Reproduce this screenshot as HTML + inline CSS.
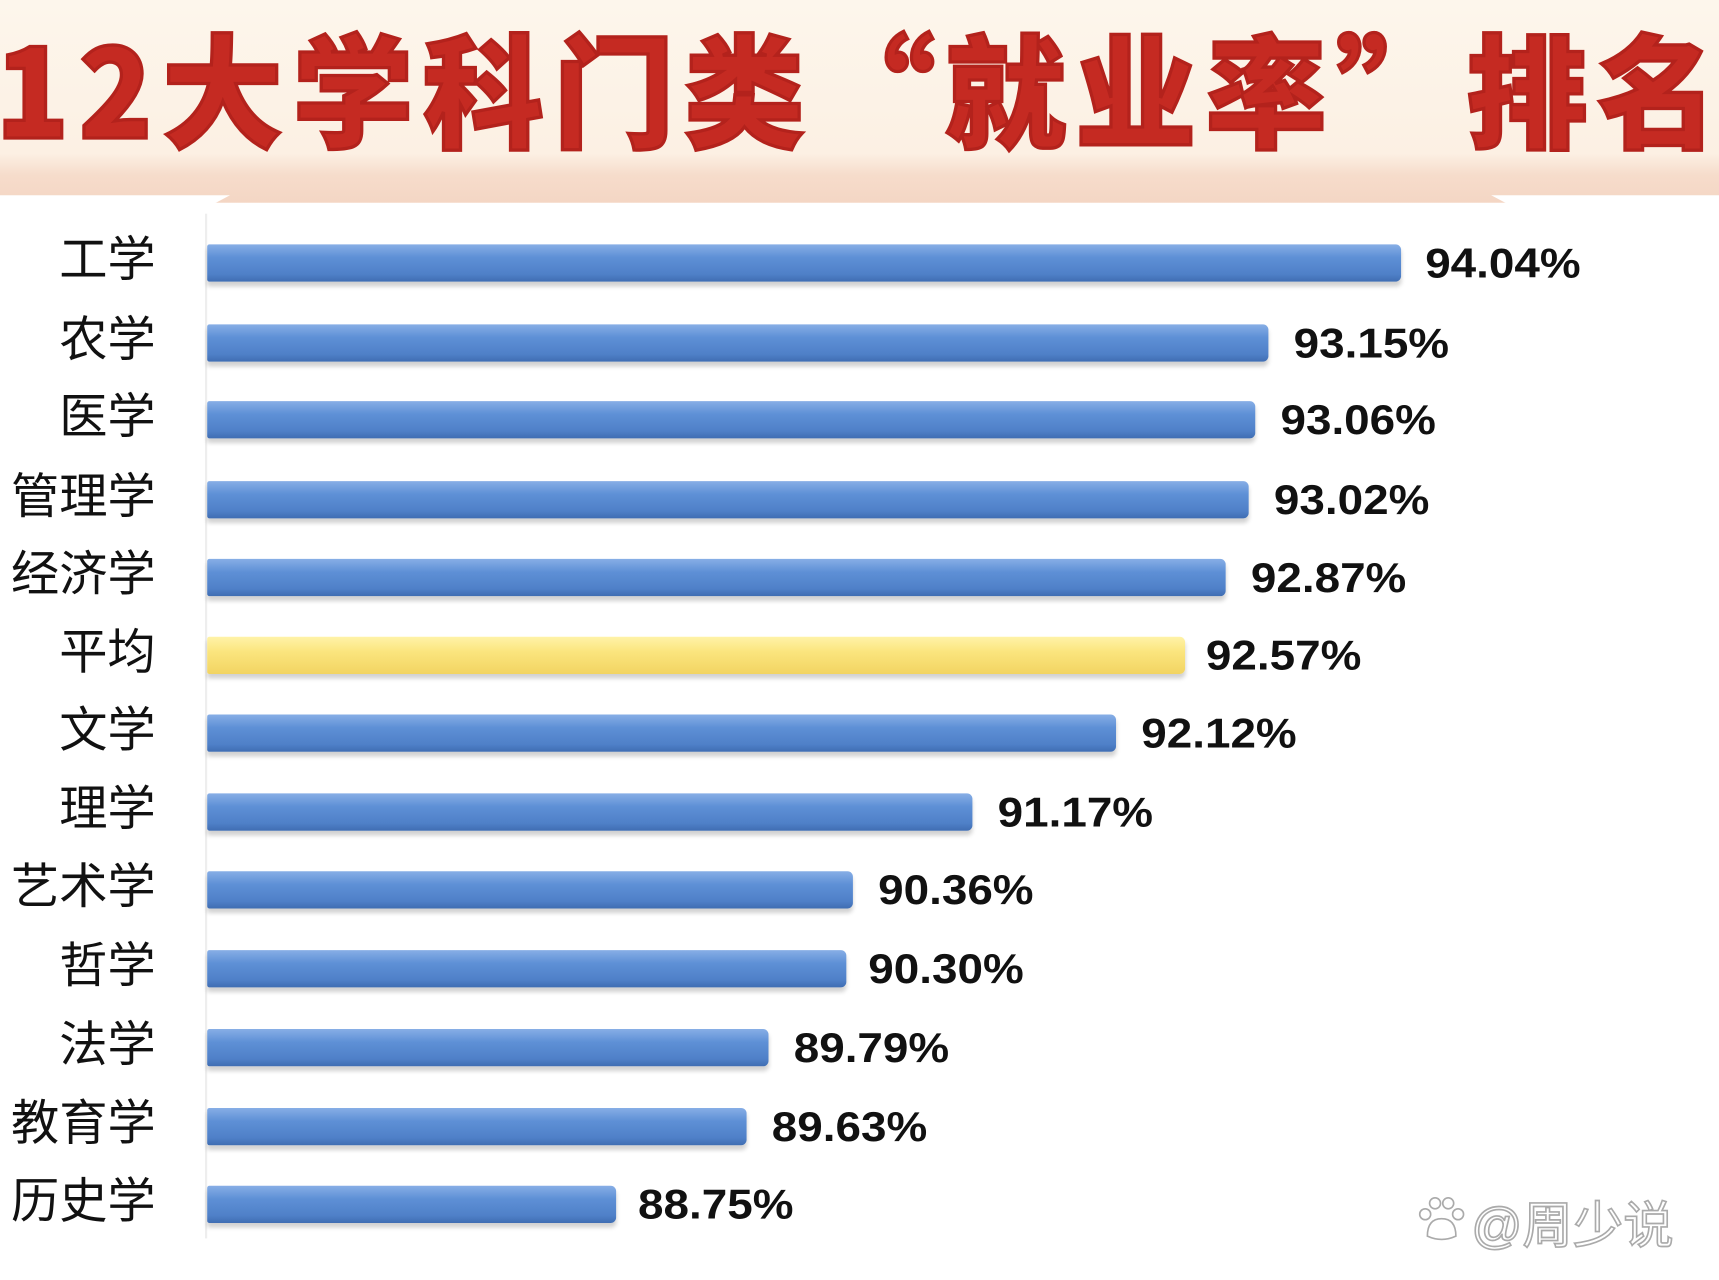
<!DOCTYPE html>
<html><head><meta charset="utf-8"><style>
html,body{margin:0;padding:0;}
body{width:1719px;height:1280px;overflow:hidden;background:#fff;}
#w{position:absolute;left:0;top:0;width:1568px;height:1168px;transform:scale(1.0963,1.0959);transform-origin:0 0;background:#fff;font-family:"Liberation Sans","Noto Sans CJK SC",sans-serif;}
.hd{position:absolute;left:0;top:0;width:1568px;height:185px;background:linear-gradient(#fdf6ec 0,#fcf0e3 140px,#f6dccb 160px,#f4d6c4 185px);}
.panel{position:absolute;left:0;top:178px;width:1568px;height:990px;background:#fff;clip-path:polygon(0 0,210px 0,195px 8px,1375px 8px,1360px 0,1568px 0,1568px 990px,0 990px);}
.t{position:absolute;left:-4px;top:12px;white-space:nowrap;font-family:"Noto Sans CJK SC",sans-serif;font-weight:900;font-size:110px;line-height:130px;color:#c52a22;letter-spacing:9px;-webkit-text-stroke:3px #b3221c;transform:scaleY(1.02);transform-origin:0 50%;}
.ax{position:absolute;left:187px;top:195px;width:2px;height:935px;background:#eee;}
.c{position:absolute;right:1426px;font-size:44px;line-height:50px;color:#111;white-space:nowrap;font-family:"Liberation Sans","Noto Sans CJK SC",sans-serif;}
.b{position:absolute;left:189px;height:34px;border-radius:2px 5px 5px 2px;background:linear-gradient(#87aee6 0,#5e90d6 35%,#4f80c8 80%,#3f6db2 100%);box-shadow:0 4px 4px rgba(0,0,0,.18);}
.y{background:linear-gradient(#fff3a8 0,#fbe57e 40%,#f2d462 100%);}
.v{position:absolute;font-weight:bold;font-size:38px;line-height:40px;color:#111;transform:scaleX(1.1);transform-origin:0 50%;}
.wm{position:absolute;left:1342px;top:1082px;font-size:46px;color:#fff;-webkit-text-stroke:1.5px #aaa;font-family:"Liberation Sans","Noto Sans CJK SC",sans-serif;}
.paw{position:absolute;left:1292px;top:1090px;width:46px;height:46px;}
</style></head><body><div id="w">
<div class="hd"></div>
<div class="t">12大学科门类“就业率”排名</div>
<div class="panel"></div>
<div class="ax"></div>

<div class="c" style="top:213px">工学</div><div class="b" style="top:223px;width:1089px"></div><div class="v" style="left:1300px;top:221px">94.04%</div>
<div class="c" style="top:286px">农学</div><div class="b" style="top:296px;width:968px"></div><div class="v" style="left:1180px;top:294px">93.15%</div>
<div class="c" style="top:356px">医学</div><div class="b" style="top:366px;width:956px"></div><div class="v" style="left:1168px;top:364px">93.06%</div>
<div class="c" style="top:429px">管理学</div><div class="b" style="top:439px;width:950px"></div><div class="v" style="left:1162px;top:437px">93.02%</div>
<div class="c" style="top:500px">经济学</div><div class="b" style="top:510px;width:929px"></div><div class="v" style="left:1141px;top:508px">92.87%</div>
<div class="c" style="top:571px">平均</div><div class="b y" style="top:581px;width:892px"></div><div class="v" style="left:1100px;top:579px">92.57%</div>
<div class="c" style="top:642px">文学</div><div class="b" style="top:652px;width:829px"></div><div class="v" style="left:1041px;top:650px">92.12%</div>
<div class="c" style="top:714px">理学</div><div class="b" style="top:724px;width:698px"></div><div class="v" style="left:910px;top:722px">91.17%</div>
<div class="c" style="top:785px">艺术学</div><div class="b" style="top:795px;width:589px"></div><div class="v" style="left:801px;top:793px">90.36%</div>
<div class="c" style="top:857px">哲学</div><div class="b" style="top:867px;width:583px"></div><div class="v" style="left:792px;top:865px">90.30%</div>
<div class="c" style="top:929px">法学</div><div class="b" style="top:939px;width:512px"></div><div class="v" style="left:724px;top:937px">89.79%</div>
<div class="c" style="top:1001px">教育学</div><div class="b" style="top:1011px;width:492px"></div><div class="v" style="left:704px;top:1009px">89.63%</div>
<div class="c" style="top:1072px">历史学</div><div class="b" style="top:1082px;width:373px"></div><div class="v" style="left:582px;top:1080px">88.75%</div>

<svg class="paw" viewBox="0 0 46 46"><g fill="#fff" stroke="#aaa" stroke-width="1.5"><circle cx="8" cy="18" r="5"/><circle cx="17" cy="8" r="5"/><circle cx="29" cy="8" r="5"/><circle cx="38" cy="18" r="5"/><path d="M10 38 Q10 22 23 22 Q36 22 36 38 Q23 44 10 38Z"/></g></svg>
<div class="wm">@周少说</div>
</div></body></html>
